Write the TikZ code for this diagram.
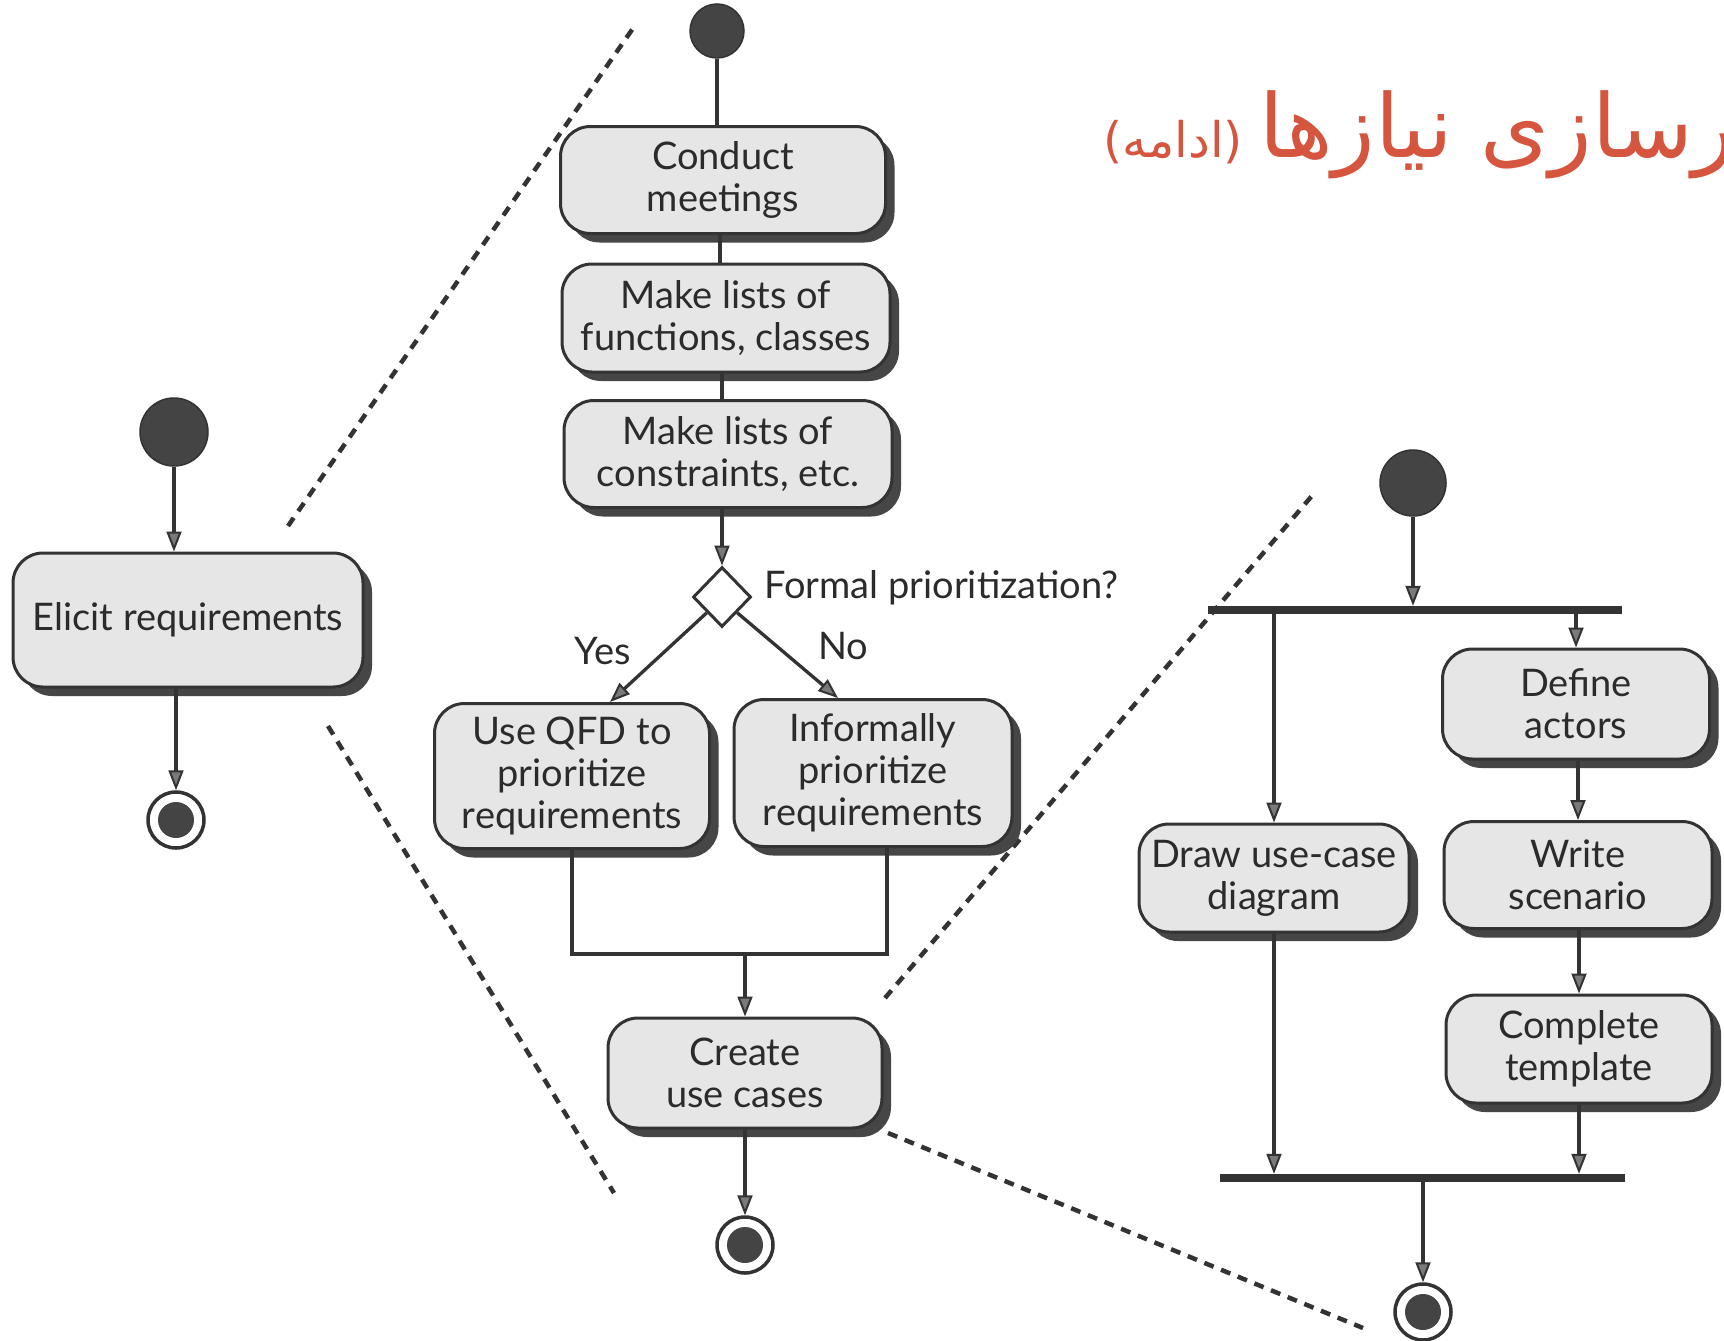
\documentclass[tikz,border=0pt]{standalone}
\usepackage{fontspec}
\setmainfont{Lato}
\newfontfamily\arabicfont[Script=Arabic]{DejaVu Sans}
\newfontfamily\parenfont{DejaVu Sans}
\TeXXeTstate=1
\usetikzlibrary{arrows.meta,shapes.geometric,shadows,calc}
\definecolor{linec}{HTML}{333333}
\definecolor{boxfill}{HTML}{E6E6E6}
\definecolor{shadowc}{HTML}{464646}
\definecolor{dotc}{HTML}{444444}
\definecolor{textc}{HTML}{2B2B2B}
\definecolor{titlered}{HTML}{D6553E}
\definecolor{tipfill}{HTML}{7A7A7A}
\newcommand\boxfont{\fontsize{38}{42}\selectfont}
\newcommand\titlebig{\fontsize{88}{100}\selectfont}
\newcommand\titlesmall{\fontsize{49}{56}\selectfont}
\begin{document}
\begin{tikzpicture}[x=1pt,y=-1pt,
  act/.style={draw=linec, line width=3pt, fill=boxfill, rounded corners=30pt,
    align=center, inner sep=0pt, text=textc, font=\boxfont,
    drop shadow={shadow xshift=9pt, shadow yshift=-9pt, fill=shadowc, opacity=1}},
  startdot/.style={circle, fill=dotc, draw=linec, line width=1.5pt, inner sep=0pt},
  enddot/.style={circle, draw=linec, line width=3.5pt, fill=white, minimum size=56pt, inner sep=0pt,
    path picture={\fill[dotc] (path picture bounding box.center) circle (18pt);}},
  bar/.style={rectangle, fill=linec, draw=none, minimum height=8pt, inner sep=0pt},
  decision/.style={diamond, draw=linec, line width=3pt, fill=white, minimum width=58pt, minimum height=60pt, inner sep=0pt},
  wire/.style={draw=linec, line width=3.3pt},
  flow/.style={draw=linec, line width=3.3pt, -{Triangle[length=20pt,width=15pt,fill=tipfill,line width=2pt]}},
  zoomline/.style={draw=linec, line width=4.5pt, dash pattern=on 10pt off 8pt},
  lbl/.style={text=textc, font=\boxfont, inner sep=0pt}
]
\path[use as bounding box, clip] (0,0) rectangle (1724,1341);
\fill[white] (0,0) rectangle (1724,1341);

% title
\node[anchor=base west, inner sep=0pt, text=titlered, font=\arabicfont\titlesmall] (cont) at (1103,157) {{\parenfont(}\beginR ادامه\endR{\parenfont)}};
\node[anchor=base west, inner sep=0pt, text=titlered, font=\arabicfont\titlebig] (title) at ($(cont.base east)+(16,0)$) {\beginR آشکارسازی نیازها\endR};

% zoom lines
\coordinate (za1) at (288,526); \coordinate (za2) at (636,24);
\coordinate (zb1) at (328,726); \coordinate (zb2) at (614,1193);
\coordinate (zc1) at (885,998); \coordinate (zc2) at (1316,491);
\coordinate (zd1) at (888,1133); \coordinate (zd2) at (1363,1328);
\draw[zoomline] (za1) -- (za2);
\draw[zoomline] (zb1) -- (zb2);
\draw[zoomline] (zc1) -- (zc2);
\draw[zoomline] (zd1) -- (zd2);

% left column
\node[startdot, minimum size=68pt] (s1) at (174,432) {};
\node[act, minimum width=350pt, minimum height=134pt] (b0) at (188,620) {Elicit requirements};
\node[enddot] (e1) at (176,820) {};
\draw[flow] (s1) -- (s1 |- b0.north);
\draw[flow] (b0.south -| e1) -- (e1);

% middle column
\node[startdot, minimum size=54pt] (s2) at (717,31) {};
\node[act, minimum width=325pt, minimum height=107pt] (b1) at (723,180) {Conduct\\meetings};
\node[act, minimum width=328pt, minimum height=108pt] (b2) at (726,318) {Make lists of\\functions, classes};
\node[act, minimum width=328pt, minimum height=107pt] (b3) at (728,454) {Make lists of\\constraints, etc.};
\node[decision] (d) at (722,597) {};
\node[lbl, anchor=west] (dq) at (764,588) {Formal prioritization?};
\node[act, minimum width=275pt, minimum height=145pt] (b4) at (572,776) {Use QFD to\\prioritize\\requirements};
\node[act, minimum width=278pt, minimum height=147pt] (b5) at (873,773) {Informally\\prioritize\\requirements};
\node[act, minimum width=274pt, minimum height=110pt] (b6) at (745,1073) {Create\\use cases};
\node[enddot] (e2) at (745,1245) {};
\node[lbl] (yes) at (603,651) {Yes};
\node[lbl] (no) at (843,646) {No};

\coordinate (v1) at (720,0);
\coordinate (v2) at (722,0);
\draw[wire] (s2.south) -- (s2.south |- b1.north);
\draw[wire] (b1.south -| v1) -- (b2.north -| v1);
\draw[wire] (b2.south -| v2) -- (b3.north -| v2);
\draw[flow] (b3.south -| d.north) -- (d.north);
\draw[flow] (d.south west) -- ($(b4.north)+(38,0)$);
\draw[flow] (d.south east) -- ($(b5.north)+(-35,0)$);
\coordinate (mL) at (572,954);
\coordinate (mR) at (887,954);
\draw[wire] (b4.south) -- (mL) -- (mR) -- (b5.south -| mR);
\draw[flow] (mL -| b6.north) -- (b6.north);
\draw[flow] (b6.south -| e2) -- (e2);

% right column
\node[startdot, minimum size=66pt] (s3) at (1413,483) {};
\node[bar, minimum width=414pt] (fork) at (1415,610) {};
\node[act, minimum width=267pt, minimum height=110pt] (c1) at (1576,704) {Define\\actors};
\node[act, minimum width=268pt, minimum height=107pt] (c2) at (1578,875) {Write\\scenario};
\node[act, minimum width=266pt, minimum height=108pt] (c3) at (1579,1049) {Complete\\template};
\node[act, minimum width=270pt, minimum height=108pt] (c4) at (1274,878) {Draw use-case\\diagram};
\node[bar, minimum width=405pt] (join) at (1422,1178) {};
\node[enddot] (e3) at (1423,1312) {};

\draw[flow] (s3) -- (s3 |- fork.north);
\draw[flow] (fork.south -| c4.north) -- (c4.north);
\draw[flow] (fork.south -| c1.north) -- (c1.north);
\draw[flow] (c1.south -| c2.north) -- (c2.north);
\draw[flow] (c2.south -| c3.north) -- (c3.north);
\draw[flow] (c3.south) -- (c3.south |- join.north);
\draw[flow] (c4.south) -- (c4.south |- join.north);
\draw[flow] (join.south -| e3) -- (e3);
\end{tikzpicture}
\end{document}
